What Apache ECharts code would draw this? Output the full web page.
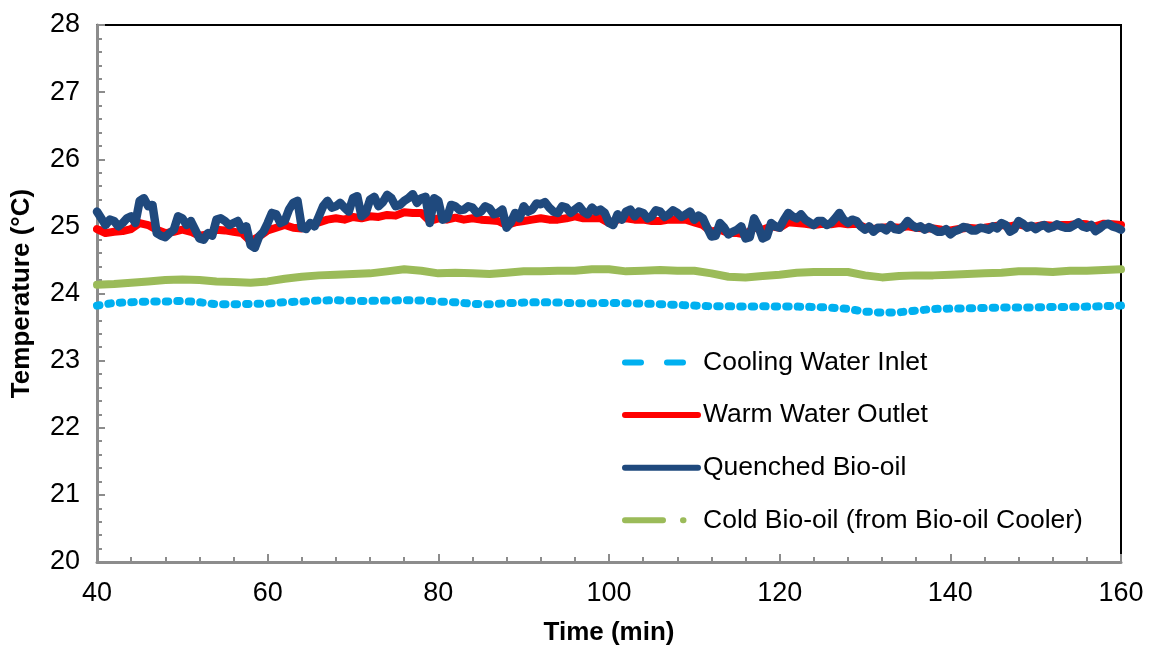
<!DOCTYPE html>
<html>
<head>
<meta charset="utf-8">
<script src="https://cdn.jsdelivr.net/npm/echarts@6/dist/echarts.min.js"></script>
<style>
  html, body { margin: 0; padding: 0; background: #fff; }
  #chart { width: 1150px; height: 646px; }
</style>
</head>
<body>
<div id="chart"></div>
<script>
// Axis ranges
const xMin = 40, xMax = 160, xStep = 20;
const yMin = 20, yMax = 28, yStep = 1;

// Cooling water inlet, sampled every 2 min from 40 to 160
const coolingStart = 40, coolingStep = 2;
const coolingWaterInlet = [
  23.82, 23.86, 23.87, 23.88, 23.88, 23.89, 23.87, 23.84, 23.84, 23.845,
  23.85, 23.87, 23.88, 23.895, 23.9, 23.89, 23.89, 23.895, 23.9, 23.895,
  23.88, 23.87, 23.845, 23.84, 23.855, 23.865, 23.87, 23.865, 23.855, 23.855,
  23.86, 23.855, 23.85, 23.84, 23.83, 23.82, 23.81, 23.81, 23.805, 23.81,
  23.805, 23.805, 23.8, 23.79, 23.77, 23.73, 23.715, 23.72, 23.745, 23.77,
  23.775, 23.78, 23.785, 23.79, 23.79, 23.795, 23.8, 23.8, 23.805, 23.81,
  23.82
];

// Warm water outlet, sampled every 1 min from 40 to 160
const warmStart = 40, warmStep = 1;
const warmWaterOutlet = [
  24.96, 24.9, 24.92, 24.93, 24.96, 25.05, 25.02, 24.95, 24.9, 24.92,
  24.95, 24.92, 24.86, 24.88, 24.95, 24.94, 24.92, 24.9, 24.78, 24.85,
  24.94, 24.98, 25.02, 24.98, 24.97, 25.02, 25.06, 25.1, 25.12, 25.1,
  25.14, 25.12, 25.15, 25.14, 25.17, 25.16, 25.21, 25.2, 25.2, 25.08,
  25.12, 25.1, 25.13, 25.1, 25.12, 25.1, 25.09, 25.08, 25.02, 25.06,
  25.08, 25.1, 25.12, 25.1, 25.1, 25.12, 25.15, 25.12, 25.12, 25.12,
  25.05, 25.1, 25.12, 25.1, 25.1, 25.08, 25.08, 25.1, 25.1, 25.1,
  25.06, 25.02, 24.92, 24.95, 24.9, 24.9, 24.88, 24.98, 24.95, 25.0,
  24.98, 25.06, 25.05, 25.04, 25.02, 25.04, 25.03, 25.05, 25.03, 25.04,
  24.98, 24.96, 24.98, 24.99, 24.98, 25.0, 24.98, 24.97, 24.97, 24.95,
  24.94, 24.96, 24.98, 24.97, 24.98, 25.0, 25.02, 25.0, 25.03, 25.0,
  25.0, 25.02, 25.01, 25.02, 25.02, 25.04, 25.03, 25.0, 25.04, 25.03,
  25.02
];

// Quenched bio-oil, sampled every 0.5 min from 40 to 160
const quenchStart = 40, quenchStep = 0.5;
const quenchedBioOil = [
  25.22, 25.12, 25.02, 25.1, 25.08, 25.0, 25.05, 25.12, 25.15, 25.05,
  25.38, 25.42, 25.3, 25.32, 24.9, 24.86, 24.84, 24.9, 24.95, 25.15,
  25.12, 25.02, 25.08, 24.95, 24.82, 24.8, 24.9, 24.86, 25.1, 25.12,
  25.08, 25.02, 25.05, 25.08, 24.95, 25.0, 24.72, 24.68, 24.85, 24.92,
  25.05, 25.2, 25.18, 25.05, 25.08, 25.25, 25.35, 25.38, 24.98, 24.96,
  25.05, 25.0, 25.15, 25.3, 25.38, 25.28, 25.3, 25.35, 25.28, 25.22,
  25.42, 25.45, 25.15, 25.2, 25.4, 25.44, 25.3, 25.36, 25.47, 25.42,
  25.3, 25.32, 25.38, 25.42, 25.48, 25.35, 25.42, 25.44, 25.05, 25.42,
  25.38, 25.1, 25.12, 25.32, 25.3, 25.24, 25.25, 25.3, 25.28, 25.2,
  25.22, 25.3, 25.27, 25.18, 25.2, 25.25, 24.98, 25.06, 25.2, 25.12,
  25.3, 25.22, 25.25, 25.34, 25.33, 25.36, 25.28, 25.22, 25.2, 25.3,
  25.28, 25.2, 25.25, 25.3, 25.22, 25.18, 25.28, 25.22, 25.25, 25.2,
  25.05, 25.02, 25.18, 25.1, 25.22, 25.25, 25.15, 25.22, 25.2, 25.12,
  25.15, 25.24, 25.22, 25.14, 25.18, 25.24, 25.2, 25.14, 25.18, 25.22,
  25.1, 25.16, 25.12, 24.98, 24.85, 24.86, 25.05, 24.98, 24.88, 24.92,
  24.95, 25.0, 24.82, 24.84, 25.12, 25.0, 24.82, 24.85, 25.05, 25.0,
  24.98, 25.1, 25.2, 25.15, 25.12, 25.18, 25.1, 25.06, 25.02, 25.08,
  25.08, 25.02, 25.05, 25.12, 25.2, 25.1, 25.05, 25.1, 25.08, 25.0,
  24.95, 25.0, 24.92, 24.98, 24.98, 24.94, 25.02, 24.96, 24.95, 25.0,
  25.08, 25.02, 24.98, 25.0, 24.95, 24.99, 24.96, 24.92, 24.92, 24.96,
  24.88, 24.93, 24.95, 24.99, 24.98, 24.94, 24.94, 24.98, 24.97, 24.95,
  25.0, 24.97, 25.05, 25.02, 24.92, 24.96, 25.08, 25.04, 24.98, 25.01,
  24.96, 25.0, 25.02, 24.97, 24.99, 25.03, 25.0, 24.98, 24.98, 25.02,
  25.06, 25.0, 24.98, 25.02, 24.93, 24.97, 25.02, 25.04, 25.0, 24.98,
  24.95
];

// Cold bio-oil from the bio-oil cooler, sampled every 2 min from 40 to 160
const coldStart = 40, coldStep = 2;
const coldBioOil = [
  24.13, 24.14, 24.16, 24.18, 24.2, 24.21, 24.2, 24.18, 24.17, 24.16,
  24.18, 24.22, 24.25, 24.27, 24.28, 24.29, 24.3, 24.33, 24.36, 24.34,
  24.3, 24.31, 24.3, 24.29, 24.31, 24.33, 24.33, 24.34, 24.34, 24.36,
  24.36, 24.33, 24.34, 24.35, 24.34, 24.34, 24.3, 24.25, 24.24, 24.26,
  24.28, 24.31, 24.32, 24.32, 24.32, 24.27, 24.24, 24.26, 24.27, 24.27,
  24.28, 24.29, 24.3, 24.31, 24.33, 24.33, 24.32, 24.34, 24.34, 24.35,
  24.36
];

const seriesNames = [
  'Cooling Water Inlet',
  'Warm Water Outlet',
  'Quenched Bio-oil',
  'Cold Bio-oil (from Bio-oil Cooler)'
];

// Pair each reading with its time stamp
function toPoints(values, start, step) {
  return values.map((v, i) => [start + i * step, v]);
}

const FONT = 'Liberation Sans, Arial, sans-serif';
const AXIS_GREY = '#8c8c8c';

const chart = echarts.init(document.getElementById('chart'));

chart.setOption({
  animation: false,
  backgroundColor: '#ffffff',
  grid: {
    left: 97, right: 29, top: 25, bottom: 84,
    outerBoundsMode: 'none',
    containLabel: false,
    show: true, borderColor: '#000', borderWidth: 2, backgroundColor: 'transparent'
  },
  legend: {
    orient: 'vertical',
    left: 622, top: 349, padding: 0,
    itemWidth: 73, itemHeight: 14, itemGap: 25.6,
    itemStyle: { opacity: 0, borderWidth: 0 },
    textStyle: { fontFamily: FONT, fontSize: 26.5, color: '#000' },
    data: [
      { name: seriesNames[0], lineStyle: { type: [16, 26], cap: 'round', width: 6 } },
      { name: seriesNames[1], lineStyle: { type: 'solid', cap: 'round', width: 6 } },
      { name: seriesNames[2], lineStyle: { type: 'solid', cap: 'round', width: 6 } },
      { name: seriesNames[3], lineStyle: { type: [38, 20, 0.5, 100], cap: 'round', width: 6 } }
    ]
  },
  xAxis: {
    type: 'value',
    min: xMin, max: xMax, interval: xStep,
    name: 'Time (min)',
    nameLocation: 'middle', nameGap: 58,
    nameTextStyle: { fontFamily: FONT, fontSize: 26, fontWeight: 'bold', color: '#000' },
    axisLine: { show: true, onZero: false, lineStyle: { color: AXIS_GREY, width: 3 } },
    axisTick: { show: true, inside: true, length: 8, lineStyle: { color: AXIS_GREY, width: 2 } },
    minorTick: { show: true, splitNumber: 5, length: 5, lineStyle: { color: AXIS_GREY, width: 2 } },
    axisLabel: { fontFamily: FONT, fontSize: 27, color: '#000', margin: 18 },
    splitLine: { show: false }
  },
  yAxis: {
    type: 'value',
    min: yMin, max: yMax, interval: yStep,
    name: 'Temperature (°C)',
    nameLocation: 'middle', nameGap: 62,
    nameTextStyle: { fontFamily: FONT, fontSize: 26, fontWeight: 'bold', color: '#000' },
    axisLine: { show: true, onZero: false, lineStyle: { color: AXIS_GREY, width: 3 } },
    axisTick: { show: true, inside: true, length: 8, lineStyle: { color: AXIS_GREY, width: 2 } },
    minorTick: { show: true, splitNumber: 5, length: 5, lineStyle: { color: AXIS_GREY, width: 2 } },
    axisLabel: { fontFamily: FONT, fontSize: 27, color: '#000', margin: 17 },
    splitLine: { show: false }
  },
  series: [
    {
      name: seriesNames[0], type: 'line', showSymbol: false, symbol: 'none',
      data: toPoints(coolingWaterInlet, coolingStart, coolingStep),
      itemStyle: { color: '#00B0F0' },
      lineStyle: { color: '#00B0F0', width: 8, type: [2.5, 9], cap: 'round' },
      z: 2
    },
    {
      name: seriesNames[1], type: 'line', showSymbol: false, symbol: 'none',
      data: toPoints(warmWaterOutlet, warmStart, warmStep),
      itemStyle: { color: '#FF0000' },
      lineStyle: { color: '#FF0000', width: 8, cap: 'round', join: 'round' },
      z: 3
    },
    {
      name: seriesNames[2], type: 'line', showSymbol: false, symbol: 'none',
      data: toPoints(quenchedBioOil, quenchStart, quenchStep),
      itemStyle: { color: '#1F497D' },
      lineStyle: { color: '#1F497D', width: 8.5, cap: 'round', join: 'round' },
      z: 4
    },
    {
      name: seriesNames[3], type: 'line', showSymbol: false, symbol: 'none',
      data: toPoints(coldBioOil, coldStart, coldStep),
      itemStyle: { color: '#9BBB59' },
      lineStyle: { color: '#9BBB59', width: 8, cap: 'round', join: 'round' },
      z: 2
    }
  ]
});
</script>
</body>
</html>
